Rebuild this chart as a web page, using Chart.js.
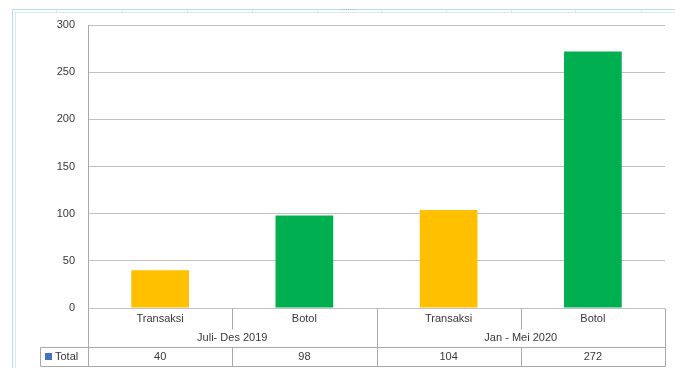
<!DOCTYPE html>
<html>
<head>
<meta charset="utf-8">
<script src="https://cdn.jsdelivr.net/npm/chart.js@4.4.1/dist/chart.umd.min.js"></script>
<style>
  body { margin:0; background:#fff; }
  #wrap { position:relative; width:675px; height:368px; overflow:hidden; }
  .frame { position:absolute; border-left:1px solid #b8dcee; border-top:1px solid #b8dcee; }
  #f1 { left:12px; top:9px; width:700px; height:400px; }
  #f2 { left:15px; top:12px; width:700px; height:400px; border-color:#d4ebf6; }
  .tick { position:absolute; top:9px; width:1px; height:4px; background:#cfe6f2; }
  #handle { position:absolute; left:341px; top:9px; width:14px; height:3px; border-top:1px dotted #9bbfd2; }
  canvas { position:absolute; left:0; top:0; }
</style>
</head>
<body>
<div id="wrap">
  <div class="frame" id="f1"></div>
  <div class="frame" id="f2"></div>
  <div id="handle"></div>
  <canvas id="c" width="675" height="368"></canvas>
</div>
<script>
const groups = ['Juli- Des 2019', 'Jan - Mei 2020'];
const categories = ['Transaksi', 'Botol', 'Transaksi', 'Botol'];
const totals = [40, 98, 104, 272];
const barColors = ['#FFC000', '#00B050', '#FFC000', '#00B050'];
const yTicks = [0, 50, 100, 150, 200, 250, 300];
const seriesName = 'Total';

const lineCol = '#a8a8a8';
const textCol = '#383838';
const font = '11px "Liberation Sans", Arial, sans-serif';

// ruler marks on the window frame
[56, 122, 187, 252, 317, 381, 446, 511, 575, 641].forEach(px=>{
  const d = document.createElement('div'); d.className = 'tick'; d.style.left = px + 'px';
  document.getElementById('wrap').insertBefore(d, document.getElementById('c'));
});

// draws the excel style data table under the plot
const dataTable = {
  id: 'dataTable',
  afterDraw(chart){
    const ctx = chart.ctx, x = chart.scales.x, a = chart.chartArea;
    const n = categories.length;
    const edges = [a.left];
    for(let i=0;i<n-1;i++) edges.push((x.getPixelForValue(i)+x.getPixelForValue(i+1))/2);
    edges.push(a.right);
    const b = a.bottom;
    const rowTop = b + 39, rowBot = b + 58, catBot = b + 21;
    const perGroup = n / groups.length;

    ctx.save();
    ctx.strokeStyle = lineCol; ctx.lineWidth = 1;
    const line = (x1,y1,x2,y2)=>{ ctx.beginPath(); ctx.moveTo(Math.round(x1)+0.5,Math.round(y1)+0.5); ctx.lineTo(Math.round(x2)+0.5,Math.round(y2)+0.5); ctx.stroke(); };
    edges.forEach((e,i)=>{
      if(i % perGroup === 0) line(e, b, e, rowBot);
      else { line(e, b, e, catBot); line(e, rowTop, e, rowBot); }
    });
    line(40, rowTop, a.right, rowTop);
    line(40, rowBot, a.right, rowBot);
    line(40, rowTop, 40, rowBot);

    ctx.fillStyle = textCol; ctx.font = font;
    ctx.textAlign = 'center'; ctx.textBaseline = 'middle';
    categories.forEach((c,i)=>{
      const cx = x.getPixelForValue(i);
      ctx.fillText(c, cx, b + 11);
      ctx.fillText(String(totals[i]), cx, b + 49);
    });
    groups.forEach((g,j)=>{
      const cx = (edges[j*perGroup] + edges[(j+1)*perGroup]) / 2;
      ctx.fillText(g, cx, b + 30);
    });
    ctx.fillStyle = '#4472C4';
    ctx.fillRect(45, b + 45, 7, 7);
    ctx.fillStyle = textCol; ctx.textAlign = 'left';
    ctx.fillText(seriesName, 55, b + 49);
    ctx.restore();
  }
};

new Chart(document.getElementById('c'), {
  type: 'bar',
  data: { labels: categories, datasets: [{ label: seriesName, data: totals, backgroundColor: barColors, barPercentage: 0.4, categoryPercentage: 1 }] },
  options: {
    responsive: false, animation: false,
    layout: { padding: { top: 25, bottom: 60, left: 0, right: 10 } },
    plugins: { legend: { display: false }, tooltip: { enabled: false } },
    scales: {
      x: { display: false },
      y: {
        min: 0, max: 300,
        afterBuildTicks(s){ s.ticks = yTicks.map(v=>({ value: v })); },
        afterFit(s){ s.width = 88; },
        ticks: { color: textCol, font: { size: 11, family: '"Liberation Sans", Arial, sans-serif' }, padding: 13 },
        grid: { color: '#c0c0c0', drawTicks: false },
        border: { color: lineCol }
      }
    }
  },
  plugins: [dataTable]
});
</script>
</body>
</html>
